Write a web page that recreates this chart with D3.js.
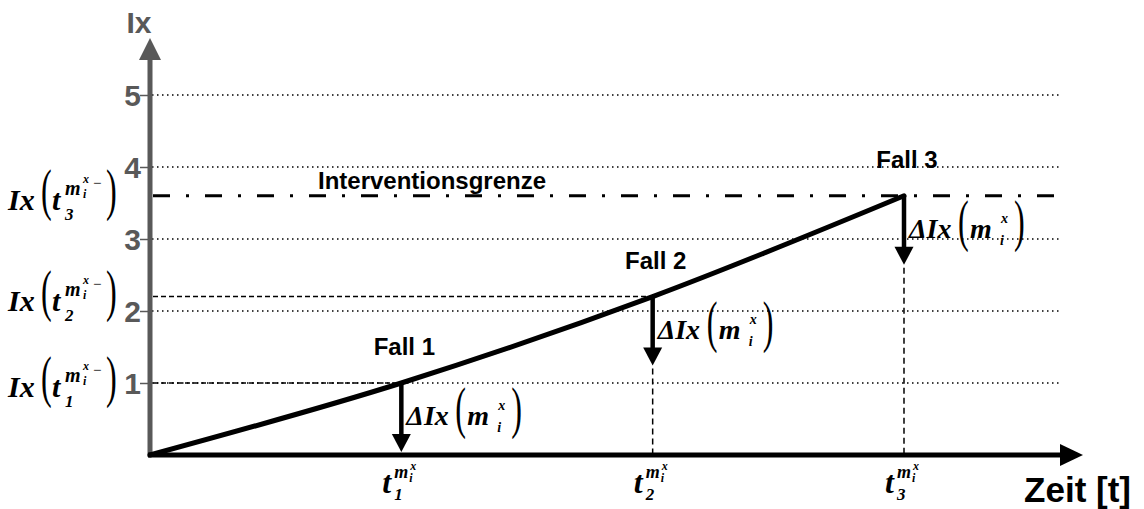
<!DOCTYPE html>
<html>
<head>
<meta charset="utf-8">
<script src="https://cdn.jsdelivr.net/npm/d3@7"></script>
<style>
  body { margin: 0; background: #fff; }
  svg { display: block; }
</style>
</head>
<body>
<div id="chart"></div>
<script>
// Data
const timePoints = [0, 1, 2, 3];          // t (0 = origin, 1..3 = t1..t3)
const ixValues = [0, 1, 2.2, 3.6];        // Ix at each time point
const yTicks = [1, 2, 3, 4, 5];
const fallLabels = ["Fall 1", "Fall 2", "Fall 3"];
const fallIndex = [1, 2, 3];              // which time point each case belongs to
const deltaIx = [1, 1, 1];                // length of the ΔIx arrow (in Ix units)
const interventionLimit = 3.6;
const subDigits = ["1", "2", "3"];

const width = 1144, height = 509;
const gray = "#595959";
const sans = "'Liberation Sans', Arial, sans-serif";
const serif = "'Liberation Serif', 'Times New Roman', serif";

const svg = d3.select("#chart").append("svg")
    .attr("width", width)
    .attr("height", height);

// scales
const x = d3.scaleLinear().domain([0, 3]).range([150, 904]);
const y = d3.scaleLinear().domain([0, 5]).range([455, 95]);
const gridEnd = 1060;

// dotted grid lines
svg.append("g")
    .selectAll("line")
    .data(yTicks)
    .enter().append("line")
    .attr("x1", x(0) + 2)
    .attr("x2", gridEnd)
    .attr("y1", d => y(d))
    .attr("y2", d => y(d))
    .attr("stroke", "#000")
    .attr("stroke-width", 1.3)
    .attr("stroke-dasharray", "1.5,3.5");

// y axis (gray, with arrow)
const yAxis = d3.axisLeft(y).tickValues(yTicks).tickSize(10).tickFormat(d3.format("d"));
const gy = svg.append("g")
    .attr("transform", `translate(${x(0)},0)`)
    .call(yAxis);
gy.select(".domain").remove();
gy.selectAll(".tick line").attr("stroke", gray).attr("stroke-width", 1.5);
gy.selectAll(".tick text")
    .attr("fill", gray)
    .attr("x", -9)
    .attr("dy", "0.36em")
    .style("font-family", sans)
    .style("font-weight", "bold")
    .style("font-size", "30px");

svg.append("line")
    .attr("x1", x(0)).attr("x2", x(0))
    .attr("y1", y(0) + 2).attr("y2", 58)
    .attr("stroke", gray)
    .attr("stroke-width", 5);
svg.append("path")
    .attr("d", `M${x(0) - 11},60 L${x(0)},38 L${x(0) + 11},60 Z`)
    .attr("fill", gray);
svg.append("text")
    .attr("x", 139)
    .attr("y", 33)
    .attr("text-anchor", "middle")
    .attr("fill", gray)
    .style("font-family", sans)
    .style("font-weight", "bold")
    .style("font-size", "30px")
    .text("Ix");

// helper lines: dashed guides to the cases
const cases = fallIndex.map((k, i) => ({
    t: timePoints[k], v: ixValues[k], d: deltaIx[i], label: fallLabels[i], sub: subDigits[i]
}));

svg.append("g")
    .selectAll("line")
    .data(cases.filter(c => c.v !== interventionLimit))
    .enter().append("line")
    .attr("x1", x(0) + 3)
    .attr("x2", d => x(d.t))
    .attr("y1", d => y(d.v))
    .attr("y2", d => y(d.v))
    .attr("stroke", "#000")
    .attr("stroke-width", 1.5)
    .attr("stroke-dasharray", "5,3");

svg.append("g")
    .selectAll("line")
    .data(cases.filter(c => c.v - c.d > 0.05))
    .enter().append("line")
    .attr("x1", d => x(d.t))
    .attr("x2", d => x(d.t))
    .attr("y1", d => y(d.v - d.d))
    .attr("y2", y(0))
    .attr("stroke", "#000")
    .attr("stroke-width", 1.5)
    .attr("stroke-dasharray", "6,4");

// Interventionsgrenze (dash-dot)
svg.append("line")
    .attr("x1", x(0) + 3)
    .attr("x2", gridEnd)
    .attr("y1", y(interventionLimit))
    .attr("y2", y(interventionLimit))
    .attr("stroke", "#000")
    .attr("stroke-width", 3)
    .attr("stroke-dasharray", "17,16,3,16");
svg.append("text")
    .attr("x", 318)
    .attr("y", y(interventionLimit) - 7)
    .style("font-family", sans)
    .style("font-weight", "bold")
    .style("font-size", "24px")
    .text("Interventionsgrenze");

// x axis (black, with arrow)
svg.append("line")
    .attr("x1", x(0) - 2).attr("x2", 1062)
    .attr("y1", y(0)).attr("y2", y(0))
    .attr("stroke", "#000")
    .attr("stroke-width", 5);
svg.append("path")
    .attr("d", `M1060,${y(0) - 11} L1083,${y(0)} L1060,${y(0) + 11} Z`)
    .attr("fill", "#000");
svg.append("text")
    .attr("x", 1131)
    .attr("y", 502)
    .attr("text-anchor", "end")
    .style("font-family", sans)
    .style("font-weight", "bold")
    .style("font-size", "35px")
    .text("Zeit [t]");

// the Ix curve
const line = d3.line()
    .x((d, i) => x(timePoints[i]))
    .y(d => y(d))
    .curve(d3.curveMonotoneX);
svg.append("path")
    .datum(ixValues)
    .attr("fill", "none")
    .attr("stroke", "#000")
    .attr("stroke-width", 5)
    .attr("stroke-linecap", "round")
    .attr("d", line);

// ΔIx arrows
cases.forEach(c => {
    const px = x(c.t), y0 = y(c.v), y1 = y(c.v - c.d) - 3;
    svg.append("line")
        .attr("x1", px).attr("x2", px)
        .attr("y1", y0).attr("y2", y1 - 16)
        .attr("stroke", "#000")
        .attr("stroke-width", 4.5);
    svg.append("path")
        .attr("d", `M${px - 9.5},${y1 - 18} L${px},${y1} L${px + 9.5},${y1 - 18} Z`)
        .attr("fill", "#000");
});

// little formula pieces
function piece(g, txt, dx, dy, size, opts = {}) {
    const t = g.append("text")
        .style("font-family", serif)
        .style("font-size", size + "px")
        .style("font-weight", opts.normal ? "normal" : "bold")
        .style("font-style", opts.normal ? "normal" : "italic")
        .attr("fill", "#000")
        .text(txt);
    if (opts.sx) {
        t.attr("transform", `translate(${dx},${dy}) scale(${opts.sx},${opts.sy})`);
    } else {
        t.attr("x", dx).attr("y", dy);
    }
}
// tall thin parentheses
const paren = { normal: true, sx: 0.7, sy: 1.22 };

// Fall labels and ΔIx(m_i^x) labels
cases.forEach(c => {
    const px = x(c.t), py = y(c.v);
    svg.append("text")
        .attr("x", px + 3)
        .attr("y", py - 28)
        .attr("text-anchor", "middle")
        .style("font-family", sans)
        .style("font-weight", "bold")
        .style("font-size", "24px")
        .text(c.label);

    const g = svg.append("g").attr("transform", `translate(${px},${py})`);
    piece(g, "ΔIx", 5, 42, 28);
    piece(g, "(", 54, 44, 46, paren);
    piece(g, "m", 66, 42, 28);
    piece(g, "x", 97, 27, 14);
    piece(g, "i", 96, 49, 14);
    piece(g, ")", 110, 44, 46, paren);
});

// left labels Ix(t_k^{m_i^x -})
cases.forEach(c => {
    const g = svg.append("g").attr("transform", `translate(0,${y(c.v)})`);
    piece(g, "Ix", 8, 14, 30);
    piece(g, "(", 41, 13, 46, paren);
    piece(g, "t", 52, 14, 30);
    piece(g, "m", 65, -1, 20);
    piece(g, c.sub, 65, 24, 17);
    piece(g, "x", 83, -13, 12);
    piece(g, "i", 83, 2, 12);
    piece(g, "\u2212", 93, -8, 15, { normal: true });
    piece(g, ")", 106, 13, 46, paren);
});

// x tick labels t_k^{m_i^x}
cases.forEach(c => {
    const g = svg.append("g").attr("transform", `translate(${x(c.t)},${y(0)})`);
    piece(g, "t", -19, 38, 32);
    piece(g, "m", -7, 23, 18);
    piece(g, c.sub, -7, 45, 17);
    piece(g, "x", 9, 15, 12);
    piece(g, "i", 8, 27, 12);
});
</script>
</body>
</html>
